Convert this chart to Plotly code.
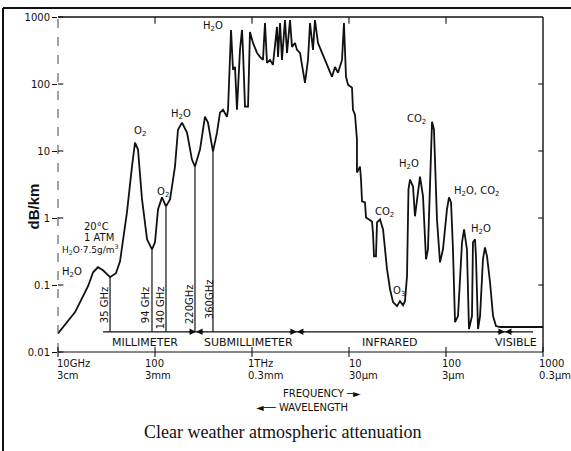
import numpy as np
import plotly.graph_objects as go

# Clear-air attenuation at sea level (20 °C, 1 atm, 7.5 g/m³ water vapour)
# frequency in GHz, attenuation in dB/km
freq_ghz = [
    10, 15, 20.4, 23, 25.8, 29.1, 34.4, 39.6, 43.6, 45.7,
    51.4, 57.9, 62.2, 66.8, 73.5, 82.8, 93.1, 100, 107.4, 118,
    129.8, 142.9, 160.7, 172.6, 189.7, 213.8, 240.4, 258.3, 291, 327.4,
    351.6, 396, 435.5, 467.7, 502.6, 552.6, 566, 608, 637, 668,
    700, 752, 789, 807, 847, 910, 953, 1024, 1127, 1208,
    1298, 1361, 1428, 1534, 1644, 1810, 1854, 1945, 2038, 2188,
    2296, 2466, 2584, 2774, 2911, 3126, 3275, 3517, 3777, 3963,
    4256, 4457, 4786, 5272, 5662, 6081, 6683, 7177, 7709, 8472,
    8872, 9310, 9772, 10740, 10990, 11530, 12080, 12080, 12980, 13300,
    13620, 14620, 14970, 17260, 17660, 18110, 18970, 19450, 20890, 22440,
    24660, 26490, 28440, 31260, 33570, 36060, 37760, 39630, 40550, 41030,
    42560, 45710, 47860, 50230, 53950, 57940, 62230, 65160, 68390, 69980,
    71780, 75160, 77090, 80720, 86700, 93110, 102300, 107400, 112700, 118000,
    123900, 133000, 146300, 153500, 164400, 172600, 185300, 189700, 199100, 203700,
    213800, 224400, 240500, 252300, 264800, 284400, 305500, 327400, 360600, 1000000,
]
atten_db_km = [
    0.019, 0.0394, 0.096, 0.155, 0.184, 0.166, 0.131, 0.150, 0.226, 0.378,
    1.21, 5.86, 13.3, 10.5, 1.89, 0.481, 0.341, 0.434, 1.34, 2.03,
    1.49, 1.89, 5.86, 20.8, 26.5, 18.8, 7.45, 5.86, 10.5, 32.5,
    26.5, 9.8, 18.8, 37.3, 41.3, 32.5, 41.3, 641, 163, 180,
    41.3, 323, 641, 323, 45.8, 45.8, 598, 410, 291, 254,
    229, 814, 207, 229, 193, 710, 254, 814, 229, 902,
    291, 902, 358, 410, 323, 291, 180, 104, 229, 814,
    323, 902, 410, 291, 229, 180, 128, 180, 147, 229,
    814, 128, 97.3, 87.8, 41.3, 34.8, 14.8, 4.77, 5.86, 3.75,
    1.77, 1.71, 1.02, 0.889, 0.611, 0.268, 0.268, 0.861, 0.953, 0.676,
    0.172, 0.0865, 0.0555, 0.0484, 0.0574, 0.0500, 0.0574, 0.135, 0.611, 2.67,
    3.75, 2.95, 1.06, 1.89, 4.16, 2.10, 0.242, 0.341, 3.39, 10.5,
    27.4, 20.8, 5.86, 0.953, 0.218, 0.341, 1.34, 2.03, 1.71, 0.341,
    0.0279, 0.0344, 0.434, 0.676, 0.341, 0.0220, 0.0344, 0.434, 0.481, 0.268,
    0.0220, 0.0344, 0.242, 0.365, 0.268, 0.110, 0.0344, 0.0244, 0.0236, 0.0236,
]

# Window frequencies marked with drop lines
window_freq_ghz = [34.4, 93.1, 129.8, 258.3, 396]
window_atten_db_km = [0.131, 0.341, 1.49, 5.86, 9.8]
window_labels = ["35 GHz", "94 GHz", "140 GHz", "220GHz", "360GHz"]

# Spectral bands along the bottom
band_names = ["MILLIMETER", "SUBMILLIMETER", "INFRARED", "VISIBLE"]
band_edges_ghz = [265, 2900, 405000]
band_span_ghz = [29.1, 790000]
band_level_db_km = 0.02

# Axis ticks
freq_ticks_ghz = [10, 100, 1000, 10000, 100000, 1000000]
freq_tick_text = ["10GHz", "100", "1THz", "10", "100", "1000"]
wave_tick_text = ["3cm", "3mm", "0.3mm", "30μm", "3μm", "0.3μm"]
atten_ticks = [0.01, 0.1, 1, 10, 100, 1000]
atten_tick_text = ["0.01", "0.1", "1", "10", "100", "1000"]

INK = "#111111"
SANS = "DejaVu Sans"

fig = go.Figure()

# attenuation curve
fig.add_trace(go.Scatter(
    x=freq_ghz, y=atten_db_km, mode="lines",
    line=dict(color=INK, width=1.8), hoverinfo="skip",
))

# drop lines from the window minima down to the band line
wx, wy = [], []
for f, a in zip(window_freq_ghz, window_atten_db_km):
    wx += [f, f, None]
    wy += [a, band_level_db_km, None]
fig.add_trace(go.Scatter(x=wx, y=wy, mode="lines",
                         line=dict(color=INK, width=1.2), hoverinfo="skip"))

# band line
fig.add_trace(go.Scatter(x=band_span_ghz, y=[band_level_db_km] * 2, mode="lines",
                         line=dict(color=INK, width=1.2), hoverinfo="skip"))

ann = []

# arrowheads meeting at each band edge
for e in band_edges_ghz:
    for side in (-1, 1):
        ann.append(dict(x=np.log10(e), y=np.log10(band_level_db_km), xref="x", yref="y",
                        text="", showarrow=True, ax=side * 9, ay=0,
                        arrowhead=2, arrowsize=1, arrowwidth=1.3,
                        arrowcolor=INK, standoff=0))

# band names
band_label_pos = [78.9, 931, 26500, 527000]
for name, f in zip(band_names, band_label_pos):
    ann.append(dict(x=np.log10(f), y=np.log10(0.0141), xref="x", yref="y",
                    text=name, showarrow=False, font=dict(size=11, family=SANS, color=INK)))

# rotated window labels
window_label_pos = [(29.8, 0.05), (78.9, 0.05), (112.7, 0.045), (224, 0.052), (360.6, 0.0615)]
for txt, (f, a) in zip(window_labels, window_label_pos):
    ann.append(dict(x=np.log10(f), y=np.log10(a), xref="x", yref="y", text=txt,
                    textangle=-90, showarrow=False,
                    font=dict(size=10, family=SANS, color=INK)))

# absorbing species and conditions
curve_notes = [
    ("H<sub>2</sub>O", 13.9, 0.155, 10),
    ("20°C", 25.2, 0.75, 10),
    ("1 ATM", 26.5, 0.514, 10),
    ("H<sub>2</sub>O·7.5g/m<sup>3</sup>", 21.4, 0.341, 9),
    ("O<sub>2</sub>", 70, 19.5, 10),
    ("O<sub>2</sub>", 121, 2.4, 10),
    ("H<sub>2</sub>O", 185, 34.8, 10),
    ("H<sub>2</sub>O", 396, 710, 10),
    ("CO<sub>2</sub>", 22960, 1.21, 10),
    ("O<sub>3</sub>", 32740, 0.081, 10),
    ("H<sub>2</sub>O", 41590, 6.28, 10),
    ("CO<sub>2</sub>", 49090, 29.3, 10),
    ("H<sub>2</sub>O, CO<sub>2</sub>", 208900, 2.49, 10),
    ("H<sub>2</sub>O", 229600, 0.676, 10),
]
for txt, f, a, s in curve_notes:
    ann.append(dict(x=np.log10(f), y=np.log10(a), xref="x", yref="y", text=txt,
                    showarrow=False, font=dict(size=s, family=SANS, color=INK)))

# frequency / wavelength tick labels
row_shift = [-3, -12, -6, -2, -6, -6]
for f, t1, t2, sh in zip(freq_ticks_ghz, freq_tick_text, wave_tick_text, row_shift):
    ann.append(dict(x=np.log10(f), y=-0.033, xref="x", yref="paper", text=t1,
                    xanchor="left", yanchor="middle", xshift=sh, showarrow=False,
                    font=dict(size=10, family=SANS, color=INK)))
    ann.append(dict(x=np.log10(f), y=-0.070, xref="x", yref="paper", text=t2,
                    xanchor="left", yanchor="middle", xshift=sh, showarrow=False,
                    font=dict(size=10, family=SANS, color=INK)))

ann += [
    dict(x=0.544, y=-0.123, xref="paper", yref="paper", text="FREQUENCY ─►",
         yanchor="middle", showarrow=False, font=dict(size=10, family=SANS, color=INK)),
    dict(x=0.503, y=-0.166, xref="paper", yref="paper", text="◄── WAVELENGTH",
         yanchor="middle", showarrow=False, font=dict(size=10, family=SANS, color=INK)),
    dict(x=0.462, y=-0.239, xref="paper", yref="paper",
         text="Clear weather atmospheric attenuation", showarrow=False,
         yanchor="middle", font=dict(size=18, family="Liberation Serif", color=INK)),
    dict(x=-0.072, y=0.433, xref="paper", yref="paper", text="<b>dB/km</b>",
         textangle=-90, showarrow=False, yanchor="middle",
         font=dict(size=15, family="Liberation Sans", color=INK)),
]

# frame, outer border and cross ticks
shp = []
def pline(x0, y0, x1, y1, w=1.3, dash="solid", color=INK):
    shp.append(dict(type="line", xref="paper", yref="paper", x0=x0, y0=y0, x1=x1, y1=y1,
                    line=dict(color=color, width=w, dash=dash)))

pline(-0.1134, -0.32, -0.1134, 1.0269, w=2)
pline(-0.1134, 1.0269, 1.07, 1.0269, w=2)
pline(0, 1, 1, 1, w=1.4)
pline(1, 0, 1, 1, w=1.4)
pline(0, 0, 1, 0, w=1.2)
pline(0, 0, 0, 1, w=1, dash="dash", color="#444444")
for k in range(6):
    pline(0, k / 5, 0.011, k / 5, w=1.1)
    pline(k / 5, -0.015, k / 5, 0.015, w=1.1)
for k in range(1, 5):
    pline(0.99, k / 5, 1, k / 5, w=1.1)
    pline(k / 5, 0.98, k / 5, 1, w=1.1)

fig.update_layout(
    width=571, height=451,
    margin=dict(l=58, r=28, t=17, b=99),
    paper_bgcolor="white", plot_bgcolor="white",
    showlegend=False,
    font=dict(family=SANS, color=INK),
    annotations=ann, shapes=shp,
    xaxis=dict(type="log", range=[1, 6], showgrid=False, zeroline=False,
               showticklabels=False, ticks="", showline=False),
    yaxis=dict(type="log", range=[-2, 3], showgrid=False, zeroline=False,
               tickvals=atten_ticks, ticktext=atten_tick_text,
               ticks="outside", ticklen=5, tickwidth=1.1, tickcolor=INK,
               tickfont=dict(size=10, family=SANS, color=INK), showline=False),
)

fig.write_html("out.html")
